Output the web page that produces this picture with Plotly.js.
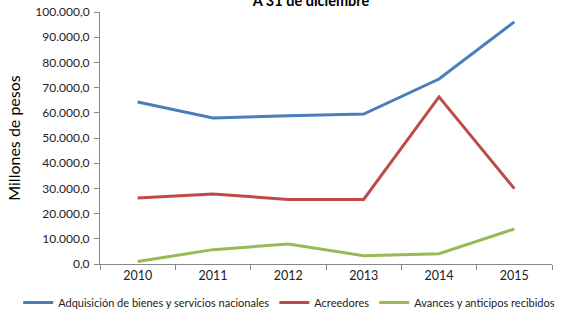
<!DOCTYPE html>
<html><head><meta charset="utf-8">
<script src="https://cdn.plot.ly/plotly-3.0.1.min.js"></script>
<style>html,body{margin:0;padding:0;background:#fff}#c{width:571px;height:318px}</style>
</head><body><div id="c"></div>
<script>
const years = ['2010','2011','2012','2013','2014','2015'];
const adquisicion = [64300, 57900, 58800, 59500, 73400, 96100];
const acreedores = [26200, 27800, 25600, 25600, 66300, 29900];
const avances = [1000, 5700, 7900, 3300, 4100, 13900];
const seriesNames = ['Adquisición de bienes y servicios nacionales', 'Acreedores', 'Avances y anticipos recibidos'];
const colors = ['#4a7ebb', '#be4b48', '#98b954'];
const vals = [adquisicion, acreedores, avances];
const font = 'Lato, "Open Sans", sans-serif';
const data = vals.map((v,i)=>({x: years, y: v, type:'scatter', mode:'lines', name: seriesNames[i], line:{color: colors[i], width:3}}));
const layout = {
  width:571, height:318, separators:',.',
  margin:{l:100, r:19, t:1, b:54},
  paper_bgcolor:'#fff', plot_bgcolor:'#fff',
  font:{family: font, size:12, color:'#222'},
  title:{text:'<b>A 31 de diciembre</b>', x:311/571, xanchor:'center', y:1.006, yanchor:'middle', yref:'container', font:{size:14.5, family:font, color:'#000'}},
  xaxis:{type:'category', range:[-0.5,5.5], tickson:'boundaries', ticks:'outside', ticklen:5, tickcolor:'#888', showline:true, linecolor:'#888', linewidth:1, showgrid:false, zeroline:false, tickfont:{size:12.5}},
  yaxis:{domain:[0, 1 - 11/263], range:[0,100000], dtick:10000, tickformat:',.1f', ticks:'outside', ticklen:5, tickcolor:'#888', showline:true, linecolor:'#888', linewidth:1, showgrid:false, zeroline:false, tickfont:{size:12}, ticklabelstandoff:2,
    title:{text:'Millones de pesos', font:{size:16, color:'#000'}, standoff:10}},
  showlegend:true,
  legend:{orientation:'h', x:-0.181, xanchor:'left', y:-0.0913, yanchor:'top', font:{size:11}, itemwidth:30, tracegroupgap:0, borderwidth:0}
};
Plotly.newPlot('c', data, layout, {displayModeBar:false});
</script></body></html>
